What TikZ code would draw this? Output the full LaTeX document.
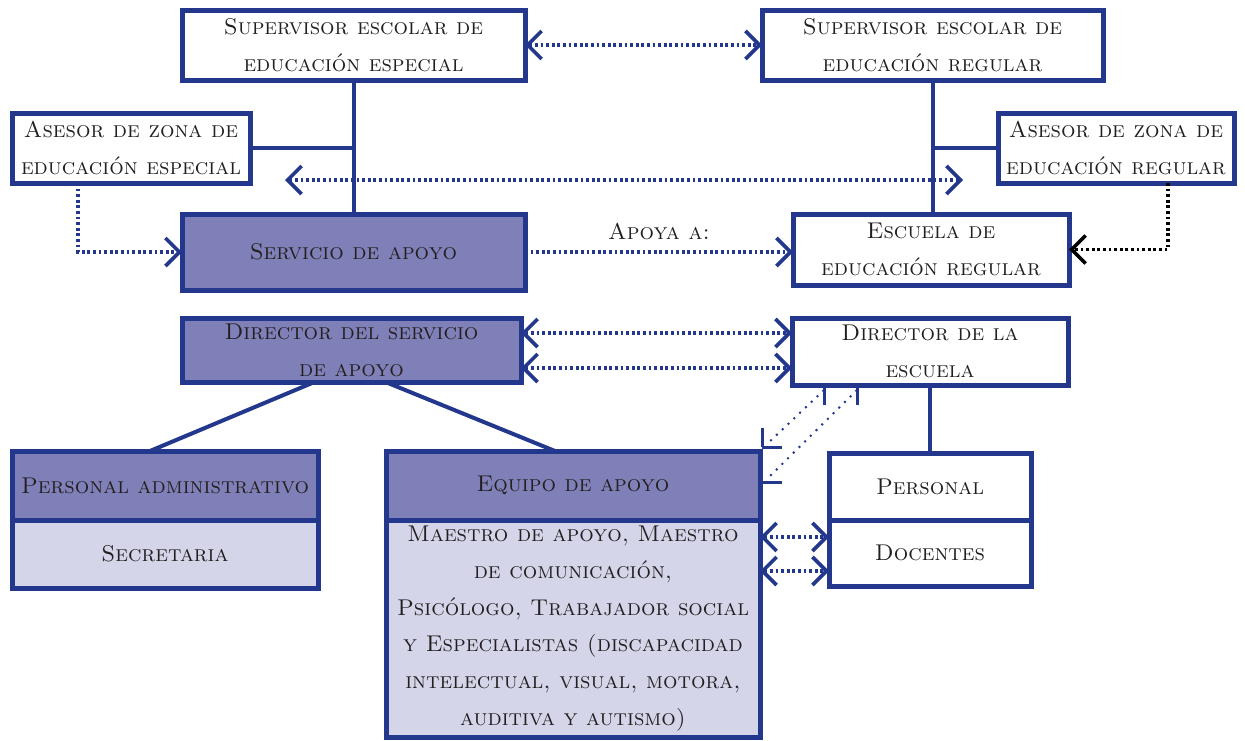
\documentclass[tikz,border=0pt]{standalone}
\usetikzlibrary{arrows.meta,calc,positioning}
\definecolor{azul}{RGB}{35,56,140}
\definecolor{lila}{RGB}{128,128,184}
\definecolor{lilaclaro}{RGB}{213,213,234}
\definecolor{tinta}{RGB}{35,31,32}
\tikzset{
  letra/.style={text=tinta, font=\fontsize{11.4}{18.4}\selectfont\scshape},
  caja/.style={letra, draw=azul, line width=2.5pt, inner sep=0pt, outer sep=0pt, align=center},
  oscura/.style={caja, fill=lila},
  clara/.style={caja, fill=lilaclaro},
  linea/.style={draw=azul, line width=2pt},
  punteada/.style={azul, line width=1.6pt, dash pattern=on 1.4pt off 1.4pt,
    >={Straight Barb[length=7pt,width=14pt,line width=1.8pt]}},
  fina/.style={azul, line width=1pt, dash pattern=on 1pt off 3pt}
}
\begin{document}
\begin{tikzpicture}[x=0.5pt,y=-0.5pt]
    \useasboundingbox (0,0) rectangle (1245,740);

    \node (supesp) [caja, minimum width=171.5pt, minimum height=35pt] at (353.5,45) {Supervisor escolar de\\educación especial};
    \node (supreg) [caja, minimum width=170.5pt, minimum height=35pt] at (932.5,45) {Supervisor escolar de\\educación regular};
    \node (asesp) [caja, minimum width=119pt, minimum height=35pt] at (131,148) {Asesor de zona de\\educación especial};
    \node (asreg) [caja, minimum width=118pt, minimum height=35pt] at (1116,148) {Asesor de zona de\\educación regular};
    \node (serv) [oscura, minimum width=171.5pt, minimum height=38pt] at (353.5,252) {Servicio de apoyo};
    \node (escuela) [caja, minimum width=138pt, minimum height=35.5pt] at (931,249.5) {Escuela de\\educación regular};
    \node (dirserv) [oscura, minimum width=169.5pt, minimum height=32pt] at (351.5,350) {Director del servicio\\de apoyo};
    \node (dirsc) [caja, minimum width=138pt, minimum height=33.5pt] at (930,351.5) {Director de la\\escuela};

    \node (padm) [oscura, minimum width=153pt, minimum height=34.5pt] at (165,485.5) {Personal administrativo};
    \node (secr) [clara, minimum width=153pt, minimum height=34pt, below=0pt of padm] {Secretaria};
    \node (eqhead) [oscura, minimum width=187pt, minimum height=34.5pt] at (573,485.5) {Equipo de apoyo};
    \node (eqbody) [clara, minimum width=187pt, minimum height=108.5pt, below=0pt of eqhead] {Maestro de apoyo, Maestro\\de comunicación,\\Psicólogo, Trabajador social\\y Especialistas (discapacidad\\intelectual, visual, motora,\\auditiva y autismo)};
    \node (personal) [caja, fill=white, minimum width=101pt, minimum height=33.5pt] at (930,486.5) {Personal};
    \node (docentes) [caja, fill=white, minimum width=101pt, minimum height=33pt, below=0pt of personal] {Docentes};

    % lineas de mando
    \draw[linea] (supesp.south) -- (serv.north);
    \draw[linea] (asesp.east) -- (asesp.east -| serv.north);
    \draw[linea] (supreg.south) -- (supreg.south |- escuela.north);
    \draw[linea] (asreg.west) -- (asreg.west -| supreg.south);
    \draw[linea] ($(dirserv.south)+(-37,0)$) -- ($(padm.north)+(-15,0)$);
    \draw[linea] ($(dirserv.south)+(34,0)$) -- ($(eqhead.north)+(-18,0)$);
    \draw[linea] (dirsc.south) -- (personal.north);

    % relaciones punteadas
    \coordinate (zonaizq) at (285,180);
    \coordinate (zonader) at (963,180);
    \draw[punteada, <->] (supesp.east) -- (supreg.west);
    \draw[punteada, <->] (zonaizq) -- (zonader);
    \draw[punteada, ->] ($(asesp.south west)+(66,0)$) |- (serv.west);
    \draw[punteada, ->] (serv.east) -- (serv.east -| escuela.west)
        node[midway, above=2pt, letra] {Apoya a:};
    \draw[punteada, black, ->] ($(asreg.south)+(52,0)$) |- (escuela.east);
    \draw[punteada, <->] ($(dirserv.east)+(0,-17)$) -- ($(dirserv.east -| dirsc.west)+(0,-17)$);
    \draw[punteada, <->] ($(dirserv.east)+(0,18)$) -- ($(dirserv.east -| dirsc.west)+(0,18)$);
    \draw[punteada, <->] ($(docentes.west -| eqbody.east)+(0,-16)$) -- ($(docentes.west)+(0,-16)$);
    \draw[punteada, <->] ($(docentes.west -| eqbody.east)+(0,18)$) -- ($(docentes.west)+(0,18)$);

    % enlaces finos con topes
    \coordinate (ta) at ($(dirsc.south west)+(32,0)$);
    \coordinate (tb) at ($(dirsc.south west)+(65,0)$);
    \coordinate (tc) at ($(eqhead.north east)+(2,-4)$);
    \coordinate (td) at ($(eqhead.north east)+(2,31)$);
    \draw[fina] ($(ta)+(0,5)$) -- ($(tc)+(4,-2)$);
    \draw[fina] ($(tb)+(0,5)$) -- ($(td)+(4,-2)$);
    \draw[azul, line width=1.5pt] (ta) -- ++(0,20) (tb) -- ++(0,20);
    \draw[azul, line width=1.5pt] (tc) -- ++(20,0) (td) -- ++(20,0) (tc) -- ++(0,-19);
\end{tikzpicture}
\end{document}
